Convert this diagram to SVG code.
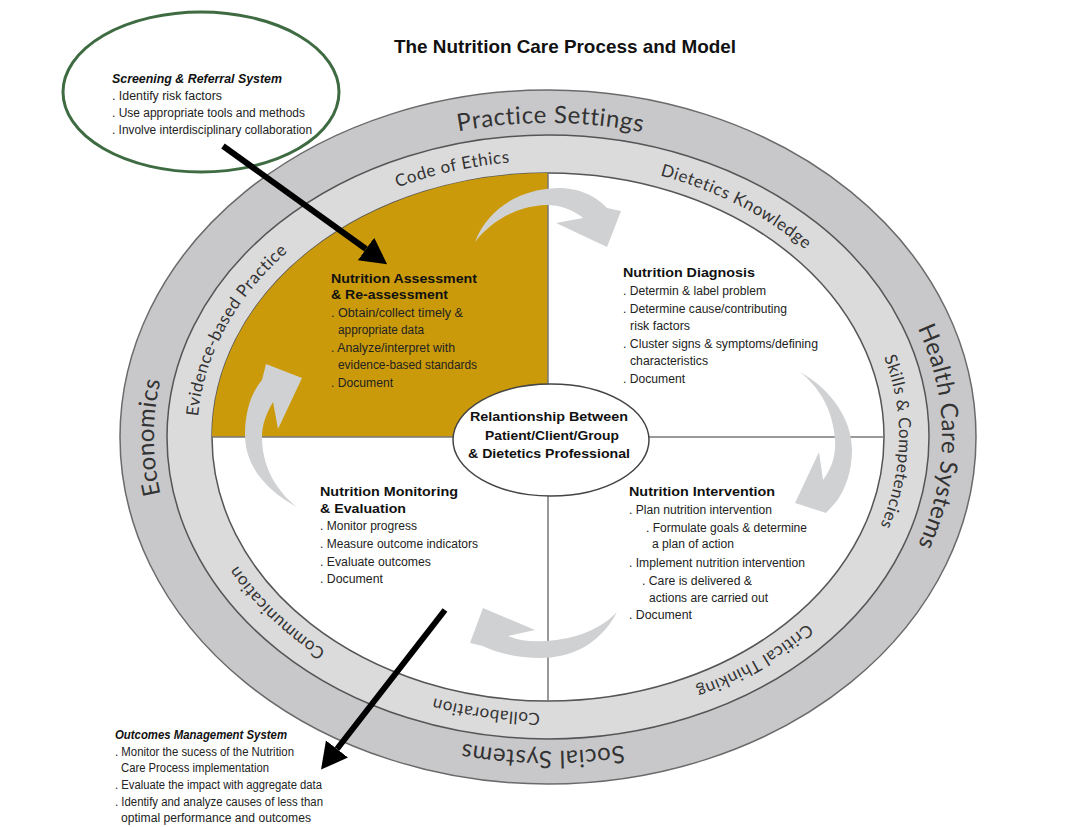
<svg xmlns="http://www.w3.org/2000/svg" width="1084" height="827" viewBox="0 0 1084 827">
<style>
.title{font-family:"Liberation Sans",Arial,sans-serif;font-weight:bold;font-size:19px;fill:#111}
.hd{font-family:"Liberation Sans",Arial,sans-serif;font-weight:bold;font-size:12.5px;fill:#111}
.hdi{font-family:"Liberation Sans",Arial,sans-serif;font-weight:bold;font-style:italic;font-size:12px;fill:#111}
.bd{font-family:"Liberation Sans",Arial,sans-serif;font-size:12.5px;fill:#222}
.ring1{font-family:Lato,"Open Sans",sans-serif;font-size:24px;fill:#333;letter-spacing:0.8px}
.ring2{font-family:Lato,"Open Sans",sans-serif;font-size:17px;fill:#333;letter-spacing:0.7px}
.cyc{fill:#D0D1D3}
.blk{stroke:#000;stroke-width:6;fill:none}
</style>
<defs>
<marker id="ah" markerUnits="userSpaceOnUse" markerWidth="30" markerHeight="30" refX="0" refY="14" orient="auto">
<path d="M0,0 L26,14 L0,28 Z" fill="#000"/>
</marker>
<path id="pPS" d="M288.3,188.8 A404,324 0 0 1 807.7,188.8"/>
<path id="pHC" d="M857.5,228.7 A404,324 0 0 1 857.5,645.3"/>
<path id="pSS" d="M807.7,685.2 A404,324 0 0 1 288.3,685.2"/>
<path id="pEC" d="M238.5,645.3 A404,324 0 0 1 238.5,228.7"/>
<path id="pCE" d="M288.7,241.8 A358,283 0 0 1 632.2,161.9"/>
<path id="pDK" d="M564.9,154.3 A358,283 0 0 1 866.1,307.2"/>
<path id="pSC" d="M861.1,299.8 A358,283 0 0 1 854.9,582.7"/>
<path id="pCT" d="M878.3,546.2 A358,283 0 0 1 593.5,717.7"/>
<path id="pCO" d="M666.9,703.9 A358,283 0 0 1 315.0,651.9"/>
<path id="pCM" d="M413.3,699.2 A358,283 0 0 1 193.4,475.9"/>
<path id="pEB" d="M198.9,499.7 A358,283 0 0 1 354.1,199.1"/>
</defs>
<rect width="1084" height="827" fill="#fff"/>

<text class="title" x="394" y="53" textLength="342" lengthAdjust="spacingAndGlyphs">The Nutrition Care Process and Model</text>

<g id="ring-outer">
<ellipse cx="548" cy="437" rx="428" ry="347" fill="#C8C8CA" stroke="#6a6a6a" stroke-width="1.5"/>
<text class="ring1" dominant-baseline="central"><textPath href="#pPS" startOffset="50.5%" text-anchor="middle">Practice Settings</textPath></text>
<text class="ring1" dominant-baseline="central"><textPath href="#pHC" startOffset="50%" text-anchor="middle">Health Care Systems</textPath></text>
<text class="ring1" dominant-baseline="central"><textPath href="#pSS" startOffset="51%" text-anchor="middle">Social Systems</textPath></text>
<text class="ring1" dominant-baseline="central"><textPath href="#pEC" startOffset="50%" text-anchor="middle">Economics</textPath></text>
</g>

<g id="ring-middle">
<ellipse cx="548" cy="437" rx="381" ry="302" fill="#DBDBDC" stroke="#555" stroke-width="1.5"/>
<text class="ring2" dominant-baseline="central"><textPath href="#pCE" startOffset="50%" text-anchor="middle">Code of Ethics</textPath></text>
<text class="ring2" dominant-baseline="central"><textPath href="#pDK" startOffset="52%" text-anchor="middle">Dietetics Knowledge</textPath></text>
<text class="ring2" dominant-baseline="central"><textPath href="#pSC" startOffset="50%" text-anchor="middle">Skills &amp; Competencies</textPath></text>
<text class="ring2" dominant-baseline="central"><textPath href="#pCT" startOffset="50%" text-anchor="middle">Critical Thinking</textPath></text>
<text class="ring2" dominant-baseline="central"><textPath href="#pCO" startOffset="50%" text-anchor="middle">Collaboration</textPath></text>
<text class="ring2" dominant-baseline="central"><textPath href="#pCM" startOffset="50%" text-anchor="middle">Communication</textPath></text>
<text class="ring2" dominant-baseline="central"><textPath href="#pEB" startOffset="50%" text-anchor="middle">Evidence-based Practice</textPath></text>
</g>

<g id="core">
<ellipse cx="548" cy="437" rx="336" ry="264" fill="#fff" stroke="#555" stroke-width="1.5"/>
<path d="M548,437 L212,437 A336,264 0 0 1 548,173 Z" fill="#CA9A0A"/>
<line x1="548" y1="173" x2="548" y2="701" stroke="#777" stroke-width="1.5"/>
<line x1="212" y1="437" x2="884" y2="437" stroke="#777" stroke-width="1.5"/>
</g>

<g id="cycle-arrows">
<path class="cyc" d="M475,242 C488,208 520,189 558,188 C582,188 598,198 607,208 L621,211 L607,247 L556,223 L583,218 C572,209 560,205 546,205 C518,206 492,220 475,242 Z"/>
<path class="cyc" d="M800,372 C832,390 852,420 852,450 C852,472 845,490 836,502 L826,513 L795,503 L819,452 L823,480 C832,468 836,455 835,440 C833,410 820,388 800,372 Z"/>
<path class="cyc" d="M617,612 C600,645 570,658 540,658 C515,658 495,652 483,646 L470,643 L483,608 L535,630 L508,636 C520,641 532,642 546,641 C575,639 600,630 617,612 Z"/>
<path class="cyc" d="M297,507 C265,490 245,465 245,435 C245,410 252,392 262,380 L266,364 L302,378 L278,429 L273,402 C266,414 262,425 262,437 C262,465 275,490 297,507 Z"/>
</g>

<g id="node-assessment">
<text class="hd" x="331" y="283" textLength="146" lengthAdjust="spacingAndGlyphs">Nutrition Assessment</text>
<text class="hd" x="331" y="299" textLength="117" lengthAdjust="spacingAndGlyphs">&amp; Re-assessment</text>
<text class="bd" x="331" y="317" textLength="132" lengthAdjust="spacingAndGlyphs">. Obtain/collect timely &amp;</text>
<text class="bd" x="338" y="334" textLength="86" lengthAdjust="spacingAndGlyphs">appropriate data</text>
<text class="bd" x="331" y="352" textLength="124" lengthAdjust="spacingAndGlyphs">. Analyze/interpret with</text>
<text class="bd" x="338" y="369" textLength="139" lengthAdjust="spacingAndGlyphs">evidence-based standards</text>
<text class="bd" x="331" y="387" textLength="62" lengthAdjust="spacingAndGlyphs">. Document</text>
</g>

<g id="node-diagnosis">
<text class="hd" x="623" y="277" textLength="132" lengthAdjust="spacingAndGlyphs">Nutrition Diagnosis</text>
<text class="bd" x="623" y="295" textLength="143" lengthAdjust="spacingAndGlyphs">. Determin &amp; label problem</text>
<text class="bd" x="623" y="313" textLength="164" lengthAdjust="spacingAndGlyphs">. Determine cause/contributing</text>
<text class="bd" x="630" y="330" textLength="60" lengthAdjust="spacingAndGlyphs">risk factors</text>
<text class="bd" x="623" y="348" textLength="195" lengthAdjust="spacingAndGlyphs">. Cluster signs &amp; symptoms/defining</text>
<text class="bd" x="630" y="365" textLength="78" lengthAdjust="spacingAndGlyphs">characteristics</text>
<text class="bd" x="623" y="383" textLength="62" lengthAdjust="spacingAndGlyphs">. Document</text>
</g>

<g id="node-intervention">
<text class="hd" x="629" y="496" textLength="146" lengthAdjust="spacingAndGlyphs">Nutrition Intervention</text>
<text class="bd" x="629" y="514" textLength="143" lengthAdjust="spacingAndGlyphs">. Plan nutrition intervention</text>
<text class="bd" x="646" y="532" textLength="161" lengthAdjust="spacingAndGlyphs">. Formulate goals &amp; determine</text>
<text class="bd" x="652" y="548" textLength="82" lengthAdjust="spacingAndGlyphs">a plan of action</text>
<text class="bd" x="629" y="567" textLength="176" lengthAdjust="spacingAndGlyphs">. Implement nutrition intervention</text>
<text class="bd" x="642" y="585" textLength="110" lengthAdjust="spacingAndGlyphs">. Care is delivered &amp;</text>
<text class="bd" x="649" y="602" textLength="119" lengthAdjust="spacingAndGlyphs">actions are carried out</text>
<text class="bd" x="629" y="619" textLength="63" lengthAdjust="spacingAndGlyphs">. Document</text>
</g>

<g id="node-monitoring">
<text class="hd" x="320" y="496" textLength="138" lengthAdjust="spacingAndGlyphs">Nutrition Monitoring</text>
<text class="hd" x="320" y="513" textLength="86" lengthAdjust="spacingAndGlyphs">&amp; Evaluation</text>
<text class="bd" x="320" y="530" textLength="97" lengthAdjust="spacingAndGlyphs">. Monitor progress</text>
<text class="bd" x="320" y="548" textLength="158" lengthAdjust="spacingAndGlyphs">. Measure outcome indicators</text>
<text class="bd" x="320" y="566" textLength="111" lengthAdjust="spacingAndGlyphs">. Evaluate outcomes</text>
<text class="bd" x="320" y="583" textLength="63" lengthAdjust="spacingAndGlyphs">. Document</text>
</g>

<g id="node-relationship">
<ellipse cx="551" cy="440" rx="98" ry="56" fill="#fff" stroke="#444" stroke-width="1.5"/>
<text class="hd" x="470" y="421" textLength="158" lengthAdjust="spacingAndGlyphs">Relantionship Between</text>
<text class="hd" x="485" y="440" textLength="134" lengthAdjust="spacingAndGlyphs">Patient/Client/Group</text>
<text class="hd" x="468" y="458" textLength="162" lengthAdjust="spacingAndGlyphs">&amp; Dietetics Professional</text>
</g>

<g id="node-screening">
<ellipse cx="201" cy="92" rx="138" ry="80" fill="none" stroke="#3E6B41" stroke-width="3"/>
<text class="hdi" x="112" y="83" textLength="170" lengthAdjust="spacingAndGlyphs">Screening &amp; Referral System</text>
<text class="bd" x="112" y="100" textLength="110" lengthAdjust="spacingAndGlyphs">. Identify risk factors</text>
<text class="bd" x="112" y="117" textLength="193" lengthAdjust="spacingAndGlyphs">. Use appropriate tools and methods</text>
<text class="bd" x="112" y="134" textLength="200" lengthAdjust="spacingAndGlyphs">. Involve interdisciplinary collaboration</text>
</g>

<g id="node-outcomes">
<text class="hdi" x="115" y="739" textLength="172" lengthAdjust="spacingAndGlyphs">Outcomes Management System</text>
<text class="bd" x="115" y="756" textLength="179" lengthAdjust="spacingAndGlyphs">. Monitor the sucess of the Nutrition</text>
<text class="bd" x="121" y="772" textLength="148" lengthAdjust="spacingAndGlyphs">Care Process implementation</text>
<text class="bd" x="115" y="789" textLength="207" lengthAdjust="spacingAndGlyphs">. Evaluate the impact with aggregate data</text>
<text class="bd" x="115" y="806" textLength="208" lengthAdjust="spacingAndGlyphs">. Identify and analyze causes of less than</text>
<text class="bd" x="121" y="822" textLength="190" lengthAdjust="spacingAndGlyphs">optimal performance and outcomes</text>
</g>

<g id="connectors">
<line class="blk" x1="223" y1="146" x2="366" y2="249" marker-end="url(#ah)"/>
<line class="blk" x1="445" y1="610" x2="337" y2="749" marker-end="url(#ah)"/>
</g>
</svg>
